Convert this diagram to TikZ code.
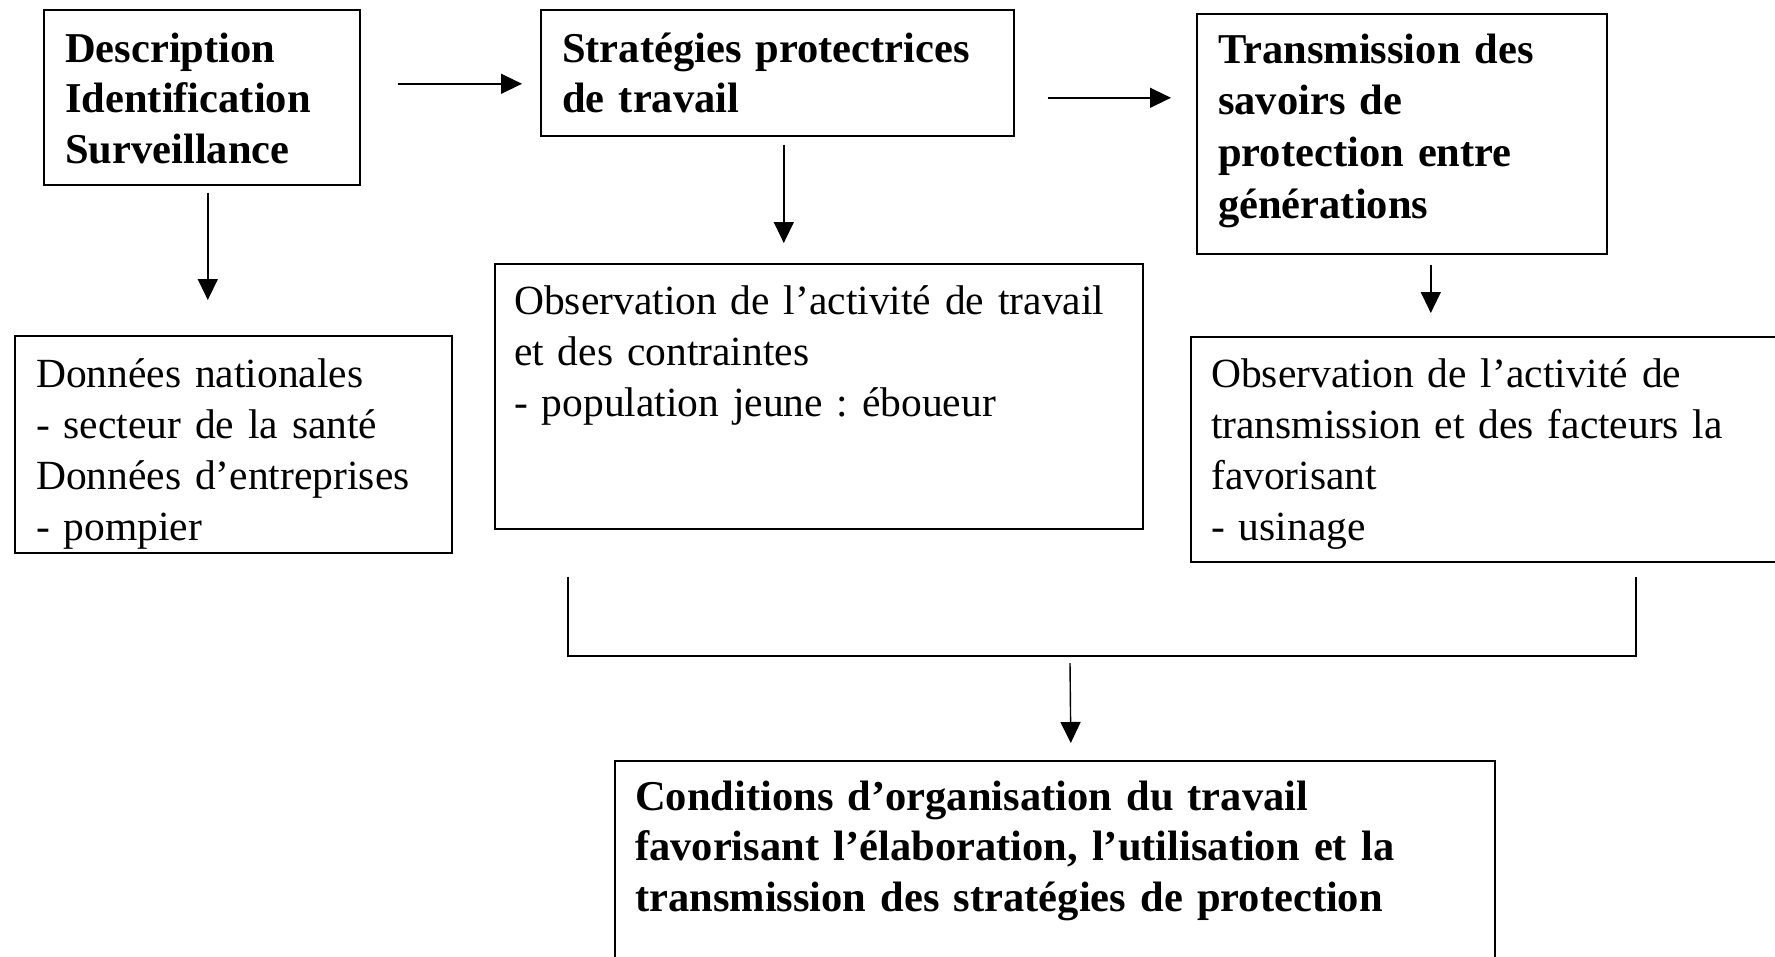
\documentclass[tikz,border=0pt]{standalone}
\usepackage{fontspec}
\setmainfont{Liberation Serif}
\usetikzlibrary{calc,arrows.meta}
\frenchspacing
\begin{document}
\begin{tikzpicture}[x=1pt,y=-1pt,
  boxnode/.style={draw=black,line width=1.6pt,inner sep=0pt,anchor=north west},
  boldtxt/.style={anchor=base west,inner sep=0pt,text width=900pt,align=left,font=\fontsize{42.5}{50.5}\selectfont\bfseries},
  regtxt/.style={anchor=base west,inner sep=0pt,text width=900pt,align=left,font=\fontsize{41.5}{51}\selectfont},
  arr/.style={line width=1.4pt,-{Triangle[length=21pt,width=20pt]}},
  plainline/.style={line width=1.4pt}]
\clip (0,0) rectangle (1775,956);
% boxes
\node[boxnode,minimum width=316pt,minimum height=175pt] (b1) at (43,9) {};
\node[boxnode,minimum width=473pt,minimum height=126pt] (b2) at (540,9) {};
\node[boxnode,minimum width=410pt,minimum height=240pt] (b3) at (1196,13) {};
\node[boxnode,minimum width=437pt,minimum height=217pt] (d1) at (14,335) {};
\node[boxnode,minimum width=648pt,minimum height=265pt] (o1) at (494,263) {};
\node[boxnode,minimum width=595pt,minimum height=225pt] (o2) at (1190,336) {};
\node[boxnode,minimum width=880pt,minimum height=220pt] (f) at (614,760) {};
% texts
\node[boldtxt] (t1) at (65,62) {Description\\Identification\\Surveillance};
\node[boldtxt] (t2) at (562,62) {Stratégies protectrices\\de travail};
\node[boldtxt,font=\fontsize{42.5}{51.7}\selectfont\bfseries] (t3) at (1218,63) {Transmission des\\savoirs de\\protection entre\\générations};
\node[regtxt] (td) at (36,387) {Données nationales\\- secteur de la santé\\Données d’entreprises\\- pompier};
\node[regtxt] (to1) at (514,314) {Observation de l’activité de travail\\et des contraintes\\- population jeune : éboueur};
\node[regtxt] (to2) at (1211,387) {Observation de l’activité de\\transmission et des facteurs la\\favorisant\\- usinage};
\node[boldtxt] (tf) at (635,810) {Conditions d’organisation du travail\\favorisant l’élaboration, l’utilisation et la\\transmission des stratégies de protection};
% arrows
\draw[arr] ($(b1.east)+(37,-13.5)$) -- ($(b2.west)+(-18,11)$);
\draw[arr] ($(b2.east)+(33,25)$) -- ($(b3.west)+(-25,-36)$);
\draw[arr] ($(b1.south)+(6,7)$) -- ($(d1.north)+(-25.5,-35)$);
\draw[arr] ($(b2.south)+(6.5,8)$) -- ($(o1.north)+(-35,-20)$);
\draw[arr] ($(b3.south)+(29,10)$) -- ($(o2.north)+(-57.5,-23)$);
% bracket
\coordinate (bl) at ($(o1.south)+(-251,47)$);
\coordinate (br) at ($(o2.south)+(147.5,14)$);
\coordinate (brk) at (1070,656);
\draw[plainline] (bl) -- (bl |- brk) -- (br |- brk) -- (br);
\draw[arr] ($(brk)+(0,7)$) -- ($(f.north)+(16,-17)$);
\end{tikzpicture}
\end{document}
